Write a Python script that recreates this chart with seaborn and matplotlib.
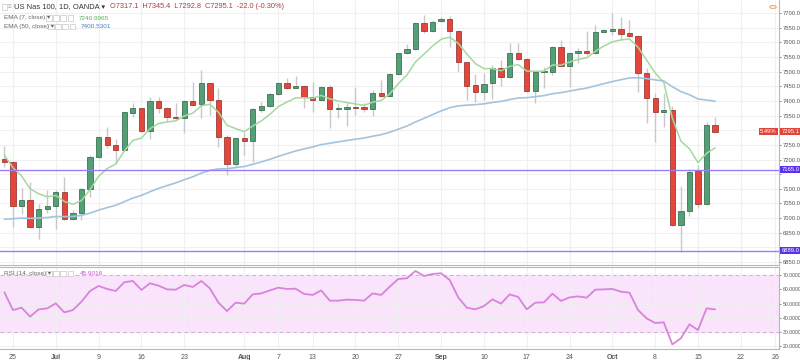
import numpy as np
import pandas as pd
import matplotlib
matplotlib.use("Agg")
import matplotlib.pyplot as plt
from matplotlib.patches import Rectangle, Circle
import seaborn as sns

# US Nas 100 daily candles (OANDA), 22 Jun - 17 Oct 2018
dates = pd.bdate_range("2018-06-22", "2018-10-17")

opens = [7202.9, 7191.5, 7041.0, 7061.8, 6968.5, 7032.0, 7042.5, 7090.0, 6997.0, 7017.0,
         7099.0, 7207.0, 7278.0, 7248.0, 7232.0, 7360.0, 7374.6, 7297.0, 7400.8, 7377.0,
         7346.0, 7340.5, 7399.7, 7388.3, 7460.0, 7403.0, 7278.0, 7184.6, 7272.0, 7264.0,
         7369.0, 7384.0, 7422.4, 7460.0, 7444.0, 7452.0, 7413.0, 7403.0, 7448.6, 7371.0,
         7373.5, 7380.0, 7378.0, 7371.0, 7428.0, 7418.0, 7492.0, 7562.4, 7576.0, 7667.0,
         7639.7, 7671.6, 7679.6, 7639.7, 7532.8, 7454.0, 7430.0, 7460.0, 7511.0, 7480.5,
         7564.6, 7544.2, 7435.0, 7498.7, 7499.8, 7585.0, 7520.0, 7563.5, 7569.0, 7562.4,
         7636.3, 7639.7, 7645.4, 7630.7, 7622.7, 7496.4, 7411.0, 7363.0, 7369.0, 6976.6,
         7025.4, 7160.8, 7047.0, 7317.1]
highs = [7246.0, 7195.0, 7101.6, 7122.0, 7048.0, 7096.0, 7096.0, 7141.0, 7028.0, 7101.6,
         7215.0, 7280.0, 7312.0, 7269.0, 7363.0, 7392.0, 7377.0, 7414.5, 7414.5, 7380.0,
         7392.0, 7403.0, 7465.6, 7505.5, 7462.0, 7445.0, 7283.6, 7278.0, 7295.0, 7375.0,
         7397.4, 7426.0, 7465.6, 7479.0, 7485.0, 7454.0, 7465.6, 7451.0, 7454.0, 7392.0,
         7397.4, 7446.0, 7392.0, 7437.0, 7471.0, 7494.0, 7565.0, 7593.0, 7669.0, 7693.0,
         7676.0, 7687.5, 7690.0, 7642.0, 7534.0, 7492.0, 7496.4, 7522.6, 7539.6, 7596.5,
         7596.5, 7546.0, 7502.0, 7517.0, 7587.0, 7608.0, 7568.0, 7579.4, 7639.7, 7659.0,
         7644.3, 7701.0, 7685.0, 7676.0, 7625.0, 7511.0, 7425.8, 7428.0, 7382.6, 7109.6,
         7166.5, 7181.0, 7329.0, 7345.4]
lows = [7173.0, 6968.5, 7014.0, 6965.0, 6929.8, 7018.5, 6961.6, 6994.0, 6993.0, 6993.0,
        7073.0, 7205.0, 7238.0, 7184.6, 7230.0, 7346.0, 7295.0, 7270.0, 7360.0, 7329.0,
        7335.0, 7289.0, 7386.0, 7340.5, 7352.0, 7244.0, 7147.0, 7170.0, 7215.0, 7193.0,
        7363.0, 7380.0, 7420.0, 7439.5, 7443.0, 7375.0, 7363.0, 7401.0, 7306.0, 7340.5,
        7314.0, 7352.0, 7363.0, 7348.5, 7414.5, 7415.0, 7488.0, 7560.0, 7574.0, 7630.7,
        7636.0, 7668.0, 7585.0, 7500.0, 7403.0, 7397.4, 7403.0, 7406.5, 7450.0, 7477.0,
        7540.0, 7431.5, 7394.0, 7443.0, 7488.5, 7518.0, 7446.0, 7528.2, 7556.7, 7560.0,
        7634.0, 7625.0, 7608.0, 7619.0, 7431.5, 7323.5, 7261.0, 7312.0, 6974.0, 6885.4,
        7007.0, 7033.0, 7044.7, 7292.8]
closes = [7191.5, 7042.5, 7061.8, 6968.5, 7031.0, 7042.5, 7090.0, 6997.0, 7016.0, 7099.0,
          7210.0, 7278.0, 7248.0, 7232.0, 7361.0, 7374.6, 7297.0, 7400.8, 7377.0, 7344.0,
          7342.0, 7399.7, 7387.0, 7460.0, 7403.0, 7278.0, 7184.6, 7272.0, 7264.0, 7371.0,
          7384.0, 7422.4, 7460.0, 7443.0, 7452.0, 7413.0, 7403.0, 7448.6, 7371.0, 7377.0,
          7380.0, 7374.6, 7371.0, 7428.0, 7418.0, 7492.0, 7562.4, 7577.0, 7667.0, 7639.7,
          7670.5, 7679.6, 7639.7, 7532.8, 7451.0, 7430.0, 7457.7, 7511.0, 7480.5, 7562.4,
          7543.0, 7435.0, 7499.8, 7503.0, 7585.0, 7520.0, 7564.6, 7569.0, 7562.4, 7636.3,
          7641.0, 7644.3, 7628.4, 7622.7, 7496.4, 7408.8, 7363.0, 7369.0, 6976.6, 7025.4,
          7158.5, 7047.0, 7317.1, 7295.1]

rsi_vals = [57.8, 45.4, 47.1, 40.8, 45.9, 46.6, 50.1, 43.8, 45.4, 51.3,
            58.8, 62.3, 60.2, 58.8, 64.9, 65.8, 59.5, 64.2, 62.5, 59.9,
            59.7, 63.0, 61.6, 65.8, 60.6, 50.6, 44.7, 50.6, 49.9, 56.4,
            57.1, 59.2, 61.1, 60.2, 60.4, 56.7, 56.0, 59.2, 52.0, 52.0,
            52.7, 52.5, 52.0, 57.1, 56.0, 61.8, 67.2, 67.7, 72.8, 69.3,
            70.7, 71.2, 66.5, 54.3, 47.1, 45.9, 48.2, 52.9, 49.9, 56.4,
            54.6, 45.9, 50.6, 50.8, 56.9, 51.8, 54.3, 55.0, 54.1, 59.7,
            59.9, 60.2, 58.3, 57.6, 45.4, 39.6, 36.3, 36.8, 21.3, 25.6,
            35.4, 31.4, 46.6, 45.9016]

# EMA values on the first visible bar (history before it is off-chart)
ema7_start = 7215.0
ema50_start = 6996.0

hlines = [7165.0, 6889.0]

tick_dates = ["2018-06-25", "2018-07-02", "2018-07-09", "2018-07-16", "2018-07-23",
              "2018-08-01", "2018-08-07", "2018-08-13", "2018-08-20", "2018-08-27",
              "2018-09-03", "2018-09-10", "2018-09-17", "2018-09-24", "2018-10-01",
              "2018-10-08", "2018-10-15", "2018-10-22", "2018-10-26"]
tick_labels = ["25", "Jul", "9", "16", "23", "Aug", "7", "13", "20", "27",
               "Sep", "10", "17", "24", "Oct", "8", "15", "22", "26"]

price_ticks = list(range(6850, 7701, 50))
hidden_ticks = [6900, 7150, 7300]  # covered by the price boxes on the scale
rsi_ticks = [20, 30, 40, 50, 60, 70]

df = pd.DataFrame({"date": dates, "open": opens, "high": highs, "low": lows, "close": closes, "rsi": rsi_vals})
df["i"] = np.arange(len(df))


def ema(values, span, start):
    a = 2.0 / (span + 1)
    out = [start]
    for v in values[1:]:
        out.append(out[-1] + a * (v - out[-1]))
    return out


df["ema7"] = ema(closes, 7, ema7_start)
df["ema50"] = ema(closes, 50, ema50_start)

all_days = pd.bdate_range("2018-06-22", "2018-10-31")
tick_pos = [all_days.get_loc(pd.Timestamp(d)) for d in tick_dates]

sns.set_theme(style="white")
plt.rcParams["font.family"] = ["Liberation Sans", "DejaVu Sans"]

W, H = 800, 360
fig = plt.figure(figsize=(8, 3.6), dpi=100)
ax = fig.add_axes([0, 1 - 265 / H, 779 / W, 265 / H])
ax2 = fig.add_axes([0, 1 - 349 / H, 779 / W, 82 / H], sharex=ax)

grid_c = "#f0f0f0"
axis_c = "#b8b8b8"
lab_c = "#555555"

# candles
up = df["close"] >= df["open"]
body_col = np.where(up, "#53a077", "#e4463b")
edge_col = np.where(up, "#2b5e40", "#8a2a22")
ax.vlines(df["i"], df["low"], df["high"], color="#c8c8c8", lw=1, zorder=2)
ax.bar(df["i"], (df["close"] - df["open"]).abs(), bottom=df[["open", "close"]].min(axis=1),
       width=0.62, color=body_col, edgecolor=edge_col, linewidth=0.5, zorder=3)

sns.lineplot(data=df, x="i", y="ema7", ax=ax, color="#a5d8a0", lw=1.1, zorder=4)
sns.lineplot(data=df, x="i", y="ema50", ax=ax, color="#a4c4de", lw=1.2, zorder=4)

for h in hlines:
    ax.axhline(h, color="#9a7cff", lw=1, zorder=5)

ax.set_xlim(-0.514, 90.46)
ax.set_ylim(6840, 7744.4)
ax.set_yticks(price_ticks)
ax.set_yticklabels(["" if v in hidden_ticks else f"{v:.1f}" for v in price_ticks])
ax.yaxis.tick_right()
ax.set_xticks(tick_pos)
ax.tick_params(axis="y", labelsize=4.2, colors=lab_c, length=1.5, pad=1, width=0.5)
ax.tick_params(axis="x", labelbottom=False, length=0)
ax.grid(True, color=grid_c, lw=0.8, zorder=0)
ax.set_xlabel("")
ax.set_ylabel("")

# RSI pane
ax2.axhspan(30, 70, color="#f9e4fb", zorder=0)
for h in (30, 70):
    ax2.axhline(h, color="#dba9df", lw=0.7, ls=(0, (4, 3)), zorder=1)
sns.lineplot(data=df, x="i", y="rsi", ax=ax2, color="#d883dc", lw=1.3, zorder=3)
ax2.set_ylim(18.1, 75.6)
ax2.set_yticks(rsi_ticks)
ax2.set_yticklabels([f"{v:.4f}" for v in rsi_ticks])
ax2.yaxis.tick_right()
ax2.set_xticks(tick_pos)
ax2.set_xticklabels(tick_labels)
for t in ax2.get_xticklabels():
    if t.get_text() in ("Jul", "Aug", "Sep", "Oct"):
        t.set_fontweight("bold")
ax2.tick_params(axis="y", labelsize=3.7, colors=lab_c, length=1.5, pad=1, width=0.5)
ax2.tick_params(axis="x", labelsize=5, colors=lab_c, length=2, pad=1.5, width=0.5)
ax2.grid(True, color=grid_c, lw=0.8, zorder=0)
ax2.set_xlabel("")
ax2.set_ylabel("")

for a in (ax, ax2):
    a.set_facecolor("white")
    for s in ("top", "left"):
        a.spines[s].set_visible(False)
    for s in ("right", "bottom"):
        a.spines[s].set_color(axis_c)
        a.spines[s].set_linewidth(0.8)
ax2.spines["top"].set_visible(True)
ax2.spines["top"].set_color(axis_c)
ax2.spines["top"].set_linewidth(0.8)

# price labels on the right scale
ytr = ax.get_yaxis_transform()
for h in hlines:
    ax.text(1.003, h, f"{h:.1f}", transform=ytr, fontsize=4.2, color="white", va="center", ha="left",
            bbox=dict(boxstyle="square,pad=0.15", fc="#5a30f0", ec="none"), zorder=10, clip_on=False)
ax.text(1.003, closes[-1], f"{closes[-1]:.1f}", transform=ytr, fontsize=4.2, color="white",
        va="center", ha="left", bbox=dict(boxstyle="square,pad=0.15", fc="#e0453a", ec="none"),
        zorder=10, clip_on=False)
ax.text(0.997, closes[-1], "5.49%", transform=ytr, fontsize=4.2, color="white", va="center", ha="right",
        bbox=dict(boxstyle="square,pad=0.15", fc="#e0453a", ec="none"), zorder=10, clip_on=False)


def ptext(x, y, s, **kw):
    fig.text(x / W, 1 - y / H, s, va="center", ha="left", **kw)


def boxes(x0, y, n=4):
    for k in range(n):
        fig.patches.append(Rectangle(((x0 + k * 7.2) / W, 1 - (y + 2.8) / H), 5.6 / W, 5.6 / H,
                                     transform=fig.transFigure, fc="white", ec="#c8c8c8", lw=0.5))


boxes(1.5, 7, n=1)
ptext(8, 7, "≡", fontsize=4.5, color="#9a9a9a")
fig.patches.append(Circle((773 / W, 1 - 7 / H), 3.2 / W, transform=fig.transFigure,
                          fc="white", ec="#f5a36b", lw=0.8))
ptext(14, 7, "US Nas 100, 1D, OANDA ▾", fontsize=5.4, color="#333333")
ptext(110, 7, "O7317.1  H7345.4  L7292.8  C7295.1  -22.0 (-0.30%)", fontsize=5.3, color="#a8403a")
ptext(4, 18, "EMA (7, close) ▾", fontsize=4.6, color="#666666")
boxes(46, 18)
ptext(79, 18, "7240.9965", fontsize=4.6, color="#56b05a")
ptext(4, 26.5, "EMA (50, close) ▾", fontsize=4.6, color="#666666")
boxes(48, 26.5)
ptext(81, 26.5, "7400.5301", fontsize=4.6, color="#4a80c2")
ptext(4, 273.5, "RSI (14, close) ▾", fontsize=4.6, color="#666666")
boxes(46, 273.5)
ptext(80, 273.5, "45.9016", fontsize=4.6, color="#c655c9")

fig.savefig("out.png", dpi=100, facecolor="white")
